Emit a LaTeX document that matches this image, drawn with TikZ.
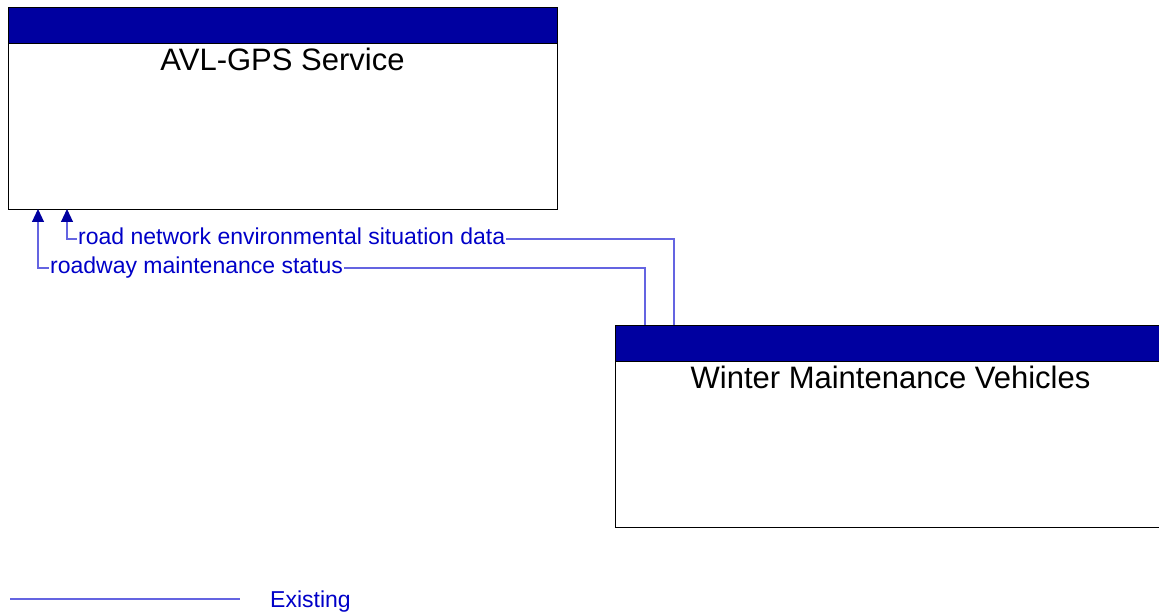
\documentclass[tikz,border=0pt]{standalone}
\usepackage{fontspec}
\setmainfont{Liberation Sans}
\usetikzlibrary{arrows.meta}
\definecolor{hdr}{RGB}{0,0,160}
\definecolor{flow}{RGB}{100,100,225}
\definecolor{lbl}{RGB}{0,0,200}
\begin{document}
\begin{tikzpicture}[x=1bp,y=-1bp,
  box/.style={draw=black, line width=0.9bp, fill=white, inner sep=0, anchor=north west},
  header/.style={fill=hdr, draw=black, line width=0.9bp},
  title/.style={font=\fontsize{31bp}{36bp}\selectfont, anchor=base, inner sep=0},
  flowlbl/.style={font=\fontsize{23bp}{27bp}\selectfont, text=lbl, inner sep=1bp,
    text height=17bp, text depth=5bp, anchor=west},
  flowline/.style={draw=flow, line width=1.1bp},
  arr/.style={-{Triangle[length=13bp,width=12bp,color=hdr]}}
]
\useasboundingbox (0,0) rectangle (1159,613);
% AVL-GPS Service
\node[box, minimum width=549bp, minimum height=202bp] (avl) at (8,7) {};
\path[header] (avl.north west) rectangle (557,43);
\node[title] (avlt) at (282.5,71) {AVL-GPS Service};
% Winter Maintenance Vehicles
\node[box, minimum width=551bp, minimum height=202bp] (wmv) at (615,325) {};
\path[header] (wmv.north west) rectangle (1166,361);
\node[title] (wmvt) at (890.5,388) {Winter Maintenance Vehicles};
% flows
\coordinate (h1) at (67,209);
\coordinate (h2) at (38,209);
\coordinate (t1) at (674,325);
\coordinate (t2) at (645,325);
\node[flowlbl] (l1) at (77,239) {road network environmental situation data};
\node[flowlbl] (l2) at (49,268) {roadway maintenance status};
\draw[flowline] (t1) |- (l1.east);
\draw[flowline, arr] (l1.west) -| (h1);
\draw[flowline] (t2) |- (l2.east);
\draw[flowline, arr] (l2.west) -| (h2);
% legend
\coordinate (lg1) at (10,599);
\coordinate (lg2) at (240,599);
\draw[flowline] (lg1) -- (lg2);
\node[font=\fontsize{23bp}{27bp}\selectfont, text=lbl, inner sep=0, anchor=base west] (lgt) at (270,607) {Existing};
\end{tikzpicture}
\end{document}
